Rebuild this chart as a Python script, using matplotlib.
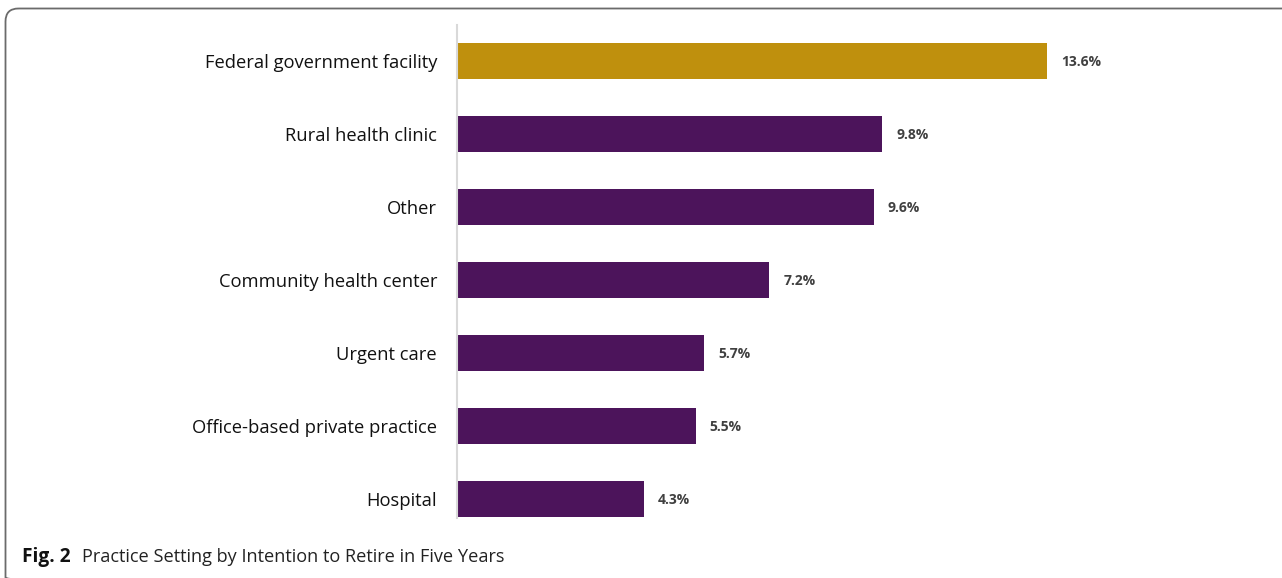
import matplotlib
matplotlib.use("Agg")
import matplotlib.pyplot as plt
from matplotlib.patches import FancyBboxPatch

categories = ["Federal government facility", "Rural health clinic", "Other",
              "Community health center", "Urgent care",
              "Office-based private practice", "Hospital"]
values = [13.6, 9.8, 9.6, 7.2, 5.7, 5.5, 4.3]
highlight = ["Federal government facility"]

W, H = 1282, 578
fig = plt.figure(figsize=(W/100, H/100), dpi=100)

# background axes in pixel coordinates for the frame
bg = fig.add_axes([0, 0, 1, 1])
bg.set_xlim(0, W)
bg.set_ylim(H, 0)
bg.axis("off")
frame = FancyBboxPatch((5.5, 8.5), 1400, 582,
                       boxstyle="round,pad=0,rounding_size=13",
                       fill=False, edgecolor="#6b6b6b", linewidth=1.3,
                       clip_on=False)
bg.add_patch(frame)

left = 457
xmax = 18.0
pxper = 43.4
ax_w = xmax * pxper
top, bottom = 25, 518
ax = fig.add_axes([left/W, 1 - bottom/H, ax_w/W, (bottom - top)/H])
ax.patch.set_alpha(0)

gold = "#BF900D"
purple = "#4C145B"
colors = [gold if c in highlight else purple for c in categories]
ypos = list(range(len(categories)))
ax.barh(ypos, values, height=0.5, color=colors)
ax.set_ylim(6.26, -0.49)
ax.set_xlim(0, xmax)
for y, v in zip(ypos, values):
    ax.text(v + 14/pxper, y + 0.01, f"{v:.1f}%", va="center", ha="left",
            fontsize=10, fontweight="bold", color="#404040", family="Open Sans")
ax.set_yticks(ypos)
ax.set_yticklabels(categories, fontsize=13.2, family="Open Sans", color="#111111")
ax.tick_params(axis="y", length=0, pad=14.4)
ax.set_xticks([])
for s in ["top", "right", "bottom"]:
    ax.spines[s].set_visible(False)
ax.spines["left"].set_color("#d9d9d9")
ax.spines["left"].set_linewidth(1.5)

fig.text(22/W, 1 - 557/H, "Fig. 2", fontsize=13.8, fontweight="bold",
         family="Open Sans", va="center", ha="left", color="#111111")
fig.text(82/W, 1 - 557/H, "Practice Setting by Intention to Retire in Five Years",
         fontsize=13.1, family="Open Sans", va="center", ha="left", color="#222222")

fig.savefig("out.png", dpi=100)
